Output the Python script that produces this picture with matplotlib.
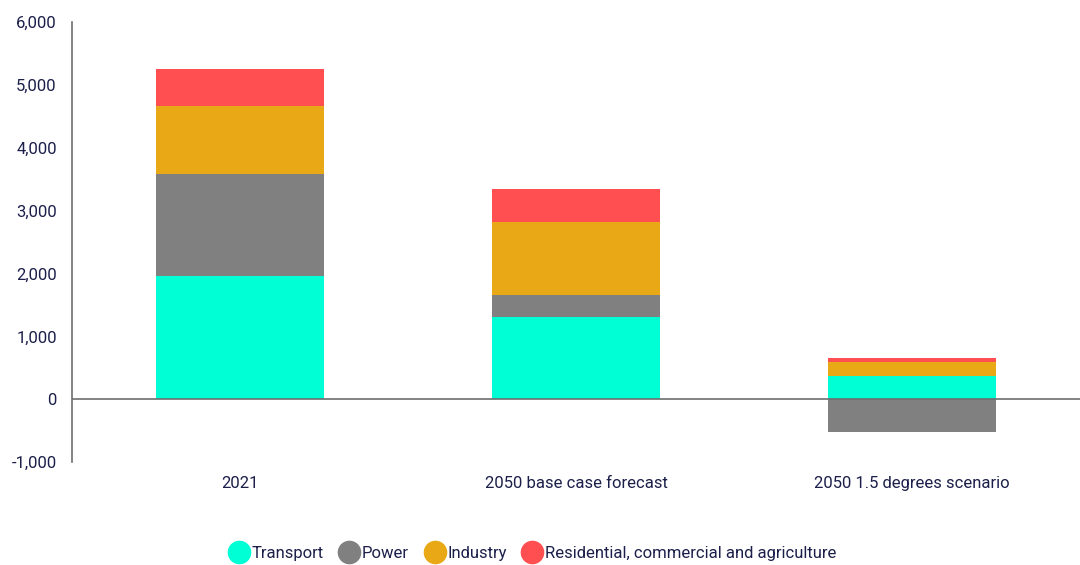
import matplotlib.pyplot as plt
import numpy as np
from matplotlib.lines import Line2D

plt.rcParams['font.family'] = ['Roboto', 'DejaVu Sans']

categories = ['2021', '2050 base case forecast', '2050 1.5 degrees scenario']
transport = [1955, 1300, 365]
power = [1620, 350, -524]
industry = [1086, 1175, 222]
residential = [587, 524, 64]

series = ['Transport', 'Power', 'Industry', 'Residential, commercial and agriculture']
colors = ['#00FFD5', '#808080', '#E9A916', '#FF4F51']
text_col = '#1B1F4A'

fig = plt.figure(figsize=(10.8, 5.65), dpi=100)
ax = fig.add_axes([0.0667, 0.182, 0.9333, 0.7795])

x = np.arange(len(categories))
w = 0.5
pos_base = np.zeros(len(categories))
neg_base = np.zeros(len(categories))
for vals, col in zip([transport, power, industry, residential], colors):
    vals = np.array(vals, dtype=float)
    bottoms = np.where(vals >= 0, pos_base, neg_base)
    ax.bar(x, vals, w, bottom=bottoms, color=col, linewidth=0, zorder=2)
    pos_base += np.where(vals >= 0, vals, 0)
    neg_base += np.where(vals < 0, vals, 0)

ax.axhline(0, color='#6E6E6E', linewidth=1.2, zorder=3)
ax.set_xlim(-0.5, 2.5)
ax.set_ylim(-1000, 6000)
ax.set_yticks(range(-1000, 6001, 1000))
ax.set_yticklabels([f'{v:,}' for v in range(-1000, 6001, 1000)])
ax.set_xticks(x)
ax.set_xticklabels(categories)
ax.tick_params(axis='both', length=0, labelsize=12, colors=text_col)
ax.tick_params(axis='y', pad=11)
ax.tick_params(axis='x', pad=10)
for s in ['top', 'right', 'bottom']:
    ax.spines[s].set_visible(False)
ax.spines['left'].set_color('#6E6E6E')
ax.spines['left'].set_linewidth(1.2)

handles = [Line2D([], [], marker='o', linestyle='', markersize=16, color=c) for c in colors]
fig.legend(handles, series, loc='center', bbox_to_anchor=(0.492, 0.02), ncol=4, frameon=False,
           fontsize=12, labelcolor=text_col, handletextpad=0.0, columnspacing=0.8,
           handlelength=1.5)

fig.savefig('out.png', dpi=100)
